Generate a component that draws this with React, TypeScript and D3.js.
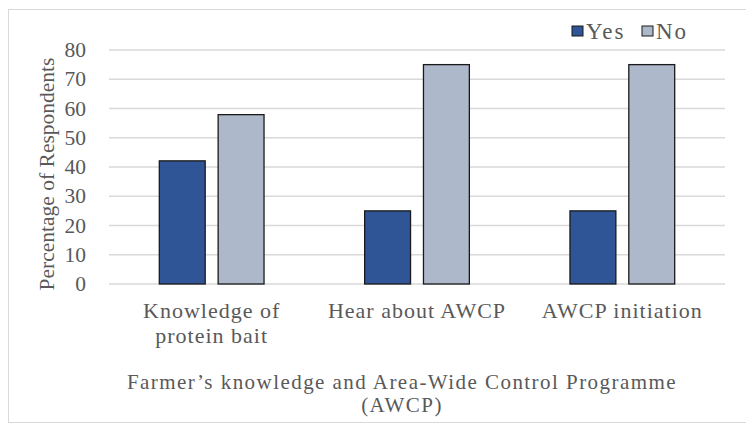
import React from "react";
import * as d3 from "d3";

const categories = ["Knowledge of\nprotein bait", "Hear about AWCP", "AWCP initiation"];
const seriesNames = ["Yes", "No"];
const yesValues = [42.1, 25, 25];
const noValues = [57.9, 75, 75];
const yTicks = [0, 10, 20, 30, 40, 50, 60, 70, 80];
const colors = ["#2F5597", "#ADB9CA"];

const W = 746;
const H = 426;
const left = 109;
const right = 725;
const top = 50;
const bottom = 284;
const FONT = "'Liberation Serif', 'Times New Roman', serif";
const TEXT = "#595959";

export default function App() {
  const y = d3.scaleLinear().domain([0, 80]).range([bottom, top]);
  const x0 = d3.scaleBand<number>().domain(categories.map((_, i) => i)).range([left, right]).paddingInner(0.49).paddingOuter(0.245);
  const x1 = d3.scaleBand<number>().domain([0, 1]).range([0, x0.bandwidth()]).paddingInner(0.22);
  const series = [yesValues, noValues];

  return (
    <svg width={W} height={H} style={{ position: "absolute", left: 0, top: 0, background: "#fff" }}>
      <rect x={8.5} y={9.5} width={W - 8} height={413} fill="none" stroke="#d9d9d9" strokeWidth={1} />
      {yTicks.map((t) => (
        <g key={t}>
          <line x1={left} x2={right} y1={y(t)} y2={y(t)} stroke="#d9d9d9" strokeWidth={1.3} />
          <text x={86} y={y(t)} textAnchor="end" dominantBaseline="central" fontFamily={FONT} fontSize={21.5} fill={TEXT}>
            {t}
          </text>
        </g>
      ))}
      {categories.map((c, i) =>
        series.map((vals, s) => (
          <rect
            key={`${i}-${s}`}
            x={(x0(i) as number) + (x1(s) as number)}
            y={y(vals[i])}
            width={x1.bandwidth()}
            height={bottom - y(vals[i])}
            fill={colors[s]}
            stroke="#1a1a1a"
            strokeWidth={1.3}
          />
        ))
      )}
      {categories.map((c, i) => {
        const cx = (x0(i) as number) + x0.bandwidth() / 2;
        const lines = c.split("\n");
        return (
          <text key={i} textAnchor="middle" fontFamily={FONT} fontSize={22} letterSpacing={1} fill={TEXT}>
            {lines.map((l, j) => (
              <tspan key={j} x={cx} y={318 + j * 25}>
                {l}
              </tspan>
            ))}
          </text>
        );
      })}
      <text
        transform={`translate(47,174) rotate(-90)`}
        textAnchor="middle"
        dominantBaseline="central"
        fontFamily={FONT}
        fontSize={21.5}
        fill={TEXT}
      >
        Percentage of Respondents
      </text>
      <text textAnchor="middle" fontFamily={FONT} fontSize={21} letterSpacing={1.45} fill={TEXT}>
        <tspan x={402} y={389}>Farmer’s knowledge and Area-Wide Control Programme</tspan>
        <tspan x={402} y={412}>(AWCP)</tspan>
      </text>
      {seriesNames.map((n, s) => {
        const lx = s === 0 ? 572 : 642;
        return (
          <g key={n}>
            <rect x={lx} y={26} width={11} height={10} fill={colors[s]} stroke="#1a1a1a" strokeWidth={1} />
            <text x={lx + 14} y={31} dominantBaseline="central" fontFamily={FONT} fontSize={23} letterSpacing={2} fill={TEXT}>
              {n}
            </text>
          </g>
        );
      })}
    </svg>
  );
}
